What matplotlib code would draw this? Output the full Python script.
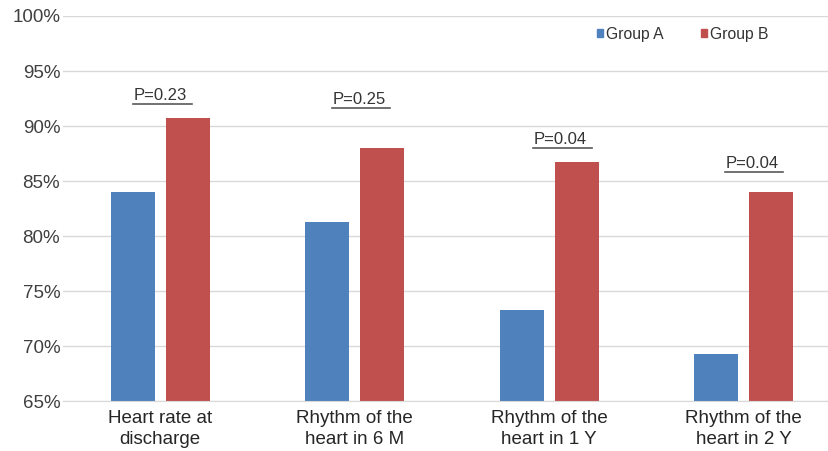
import numpy as np
import matplotlib
matplotlib.use("Agg")
import matplotlib.pyplot as plt
from matplotlib.patches import Patch

categories = ["Heart rate at\ndischarge", "Rhythm of the\nheart in 6 M",
              "Rhythm of the\nheart in 1 Y", "Rhythm of the\nheart in 2 Y"]
group_a = [84.0, 81.3, 73.3, 69.3]
group_b = [90.7, 88.0, 86.7, 84.0]
p_labels = ["P=0.23", "P=0.25", "P=0.04", "P=0.04"]

# annotation placement (hand placed in the original)
p_line_y = [92.0, 91.6, 88.0, 85.8]
p_shift = [0.012, 0.031, 0.068, 0.052]

BLUE = "#4F81BD"
RED = "#C0504D"
GRID = "#d9d9d9"
TEXT = "#404040"

plt.rcParams["font.family"] = ["Liberation Sans", "DejaVu Sans"]

W, H = 829, 451
fig = plt.figure(figsize=(W / 100, H / 100), dpi=100)
# plot area continues a bit past the right edge (cropped original)
ax = fig.add_axes([63 / W, (H - 401.3) / H, (841 - 63) / W, (401.3 - 16) / H])

x = np.arange(len(categories))
width = 0.226
off = 0.142
ax.bar(x - off, group_a, width, color=BLUE, zorder=2)
ax.bar(x + off, group_b, width, color=RED, zorder=2)

ax.set_xlim(-0.5, 3.5)
ax.set_ylim(65, 100)
ax.set_yticks(np.arange(65, 101, 5))
ax.set_yticklabels([f"{v}%" for v in range(65, 101, 5)])
ax.set_xticks(x)
ax.set_xticklabels(categories, linespacing=1.25)

ax.yaxis.grid(True, color=GRID, lw=1)
ax.set_axisbelow(True)
for side in ["top", "right", "left"]:
    ax.spines[side].set_visible(False)
ax.spines["bottom"].set_color(GRID)
ax.tick_params(axis="both", length=0, labelsize=13.5)
ax.tick_params(axis="y", pad=2, labelcolor=TEXT)
ax.tick_params(axis="x", pad=6.5, labelcolor="#262626")

for i, (lab, ly, sh) in enumerate(zip(p_labels, p_line_y, p_shift)):
    cx = x[i] + sh
    ax.plot([cx - 0.15, cx + 0.15], [ly, ly], color="#595959", lw=1.2, zorder=3)
    ax.annotate(lab, (cx - 0.01, ly), xytext=(0, 3), textcoords="offset points",
                ha="center", va="baseline", fontsize=12, color="#333333")

handles = [Patch(color=BLUE, label="Group A"), Patch(color=RED, label="Group B")]
fig.legend(handles=handles, loc="center left", bbox_to_anchor=(597 / W, 1 - 34.5 / H),
           ncol=2, frameon=False, fontsize=11.3, handlelength=0.4, handleheight=0.4,
           handletextpad=0.15, columnspacing=2.4, borderpad=0, borderaxespad=0,
           labelcolor="#333333")

fig.savefig("out.png", dpi=100)
